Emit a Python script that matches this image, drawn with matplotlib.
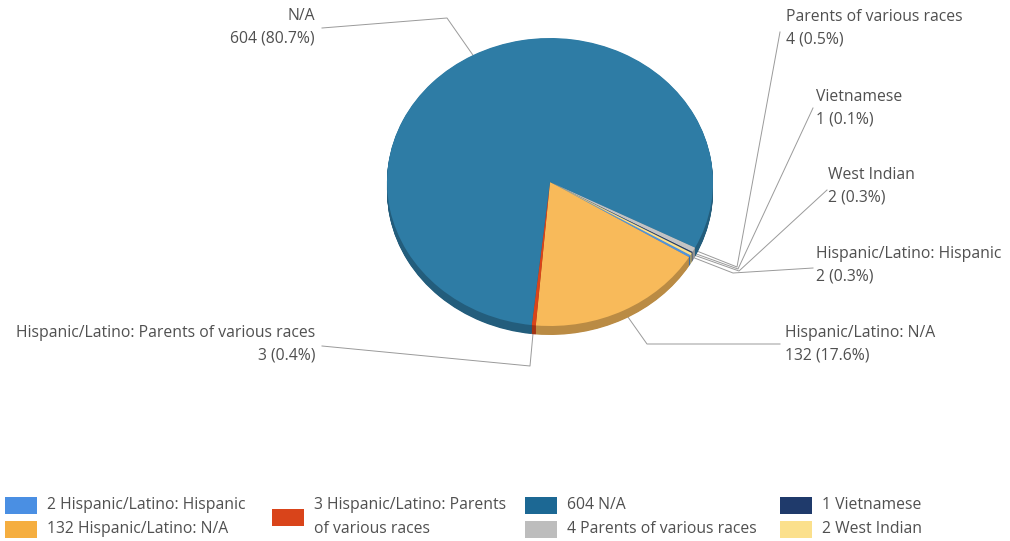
import numpy as np
import matplotlib.pyplot as plt
from matplotlib.colors import to_rgb
from matplotlib.patches import Rectangle

# --- data ---
names = ['Hispanic/Latino: Hispanic', 'Hispanic/Latino: N/A',
         'Hispanic/Latino: Parents of various races', 'N/A',
         'Parents of various races', 'Vietnamese', 'West Indian']
counts = [2, 132, 3, 604, 4, 1, 2]
pie_colors = ['#4d93e0', '#f8ba5a', '#d9441a', '#2e7ca5', '#c4c4c4', '#1f3a6b', '#fbe08c']
legend_colors = ['#4a8fe3', '#f5ae40', '#d9441a', '#1c6894', '#bdbdbd', '#1f3a6b', '#fbe08c']
legend_labels = ['2 Hispanic/Latino: Hispanic', '132 Hispanic/Latino: N/A',
                 '3 Hispanic/Latino: Parents\nof various races', '604 N/A',
                 '4 Parents of various races', '1 Vietnamese', '2 West Indian']

plt.rcParams['font.family'] = ['Open Sans', 'DejaVu Sans']
TXT = '#505050'
FS = 11.3

W, H = 1010, 541
fig = plt.figure(figsize=(W / 100, H / 100), dpi=100)
ax = fig.add_axes([0, 0, 1, 1])
ax.set_xlim(0, W); ax.set_ylim(H, 0); ax.axis('off')

# pie geometry in pixels
cx, cy, rx, ry, depth = 550, 182, 163, 144, 9
start = -30.5
lim = 1.3
pax = fig.add_axes([(cx - lim * rx) / W, (H - cy - lim * ry) / H,
                    2 * lim * rx / W, 2 * lim * ry / H])
pax.patch.set_alpha(0)

def darker(c, f=0.75):
    return tuple(v * f for v in to_rgb(c))

side_colors = [darker(c) for c in pie_colors]
for off in np.linspace(depth / ry, 0, 16)[:-1]:
    pax.pie(counts, colors=side_colors, startangle=start, counterclock=False,
            center=(0, -off), radius=1, wedgeprops=dict(linewidth=0))
pax.pie(counts, colors=pie_colors, startangle=start, counterclock=False,
        center=(0, 0), radius=1, wedgeprops=dict(linewidth=0))
pax.set_aspect('auto')
pax.set_xlim(-lim, lim); pax.set_ylim(-lim, lim)
pax.axis('off')

# mid angle of every slice -> anchor on the top face rim
total = sum(counts)
ends = start - np.cumsum(counts) / total * 360
mids = ends + np.array(counts) / total * 180
anchors = [(cx + rx * np.cos(np.radians(m)), cy - ry * np.sin(np.radians(m))) for m in mids]

# label layout: (text x, text y, ha, line end at label, elbow)
layout = {
    0: (816, 265, 'left', (813, 268), (733, 273)),
    1: (785, 344, 'left', (780, 344), (647, 344)),
    2: (315, 344, 'right', (322, 346), (530, 366)),
    3: (315, 27, 'right', (322, 28), (447, 18)),
    4: (786, 28, 'left', (780, 32), (737, 267)),
    5: (816, 108, 'left', (813, 108), (738, 269)),
    6: (828, 186, 'left', (827, 190), (739, 271)),
}
for i, (tx, ty, ha, lend, elbow) in layout.items():
    pct = counts[i] / total * 100
    ax.text(tx, ty, f'{names[i]}\n{counts[i]} ({pct:.1f}%)', ha=ha, va='center',
            multialignment=ha, fontsize=FS, color=TXT, linespacing=1.55)
    ax.plot([lend[0], elbow[0], anchors[i][0]], [lend[1], elbow[1], anchors[i][1]],
            color='#9a9a9a', lw=0.7, zorder=1)

# legend
cols = [(5, [0, 1]), (272, [2]), (525, [3, 4]), (780, [5, 6])]
for x0, idxs in cols:
    ys = [505, 529] if len(idxs) == 2 else [517]
    for y, i in zip(ys, idxs):
        ax.add_patch(Rectangle((x0, y - 8.5), 32, 17, color=legend_colors[i], lw=0))
        ax.text(x0 + 42, y, legend_labels[i], ha='left', va='center', fontsize=FS,
                color=TXT, linespacing=1.6)

fig.savefig('out.png', dpi=100)
